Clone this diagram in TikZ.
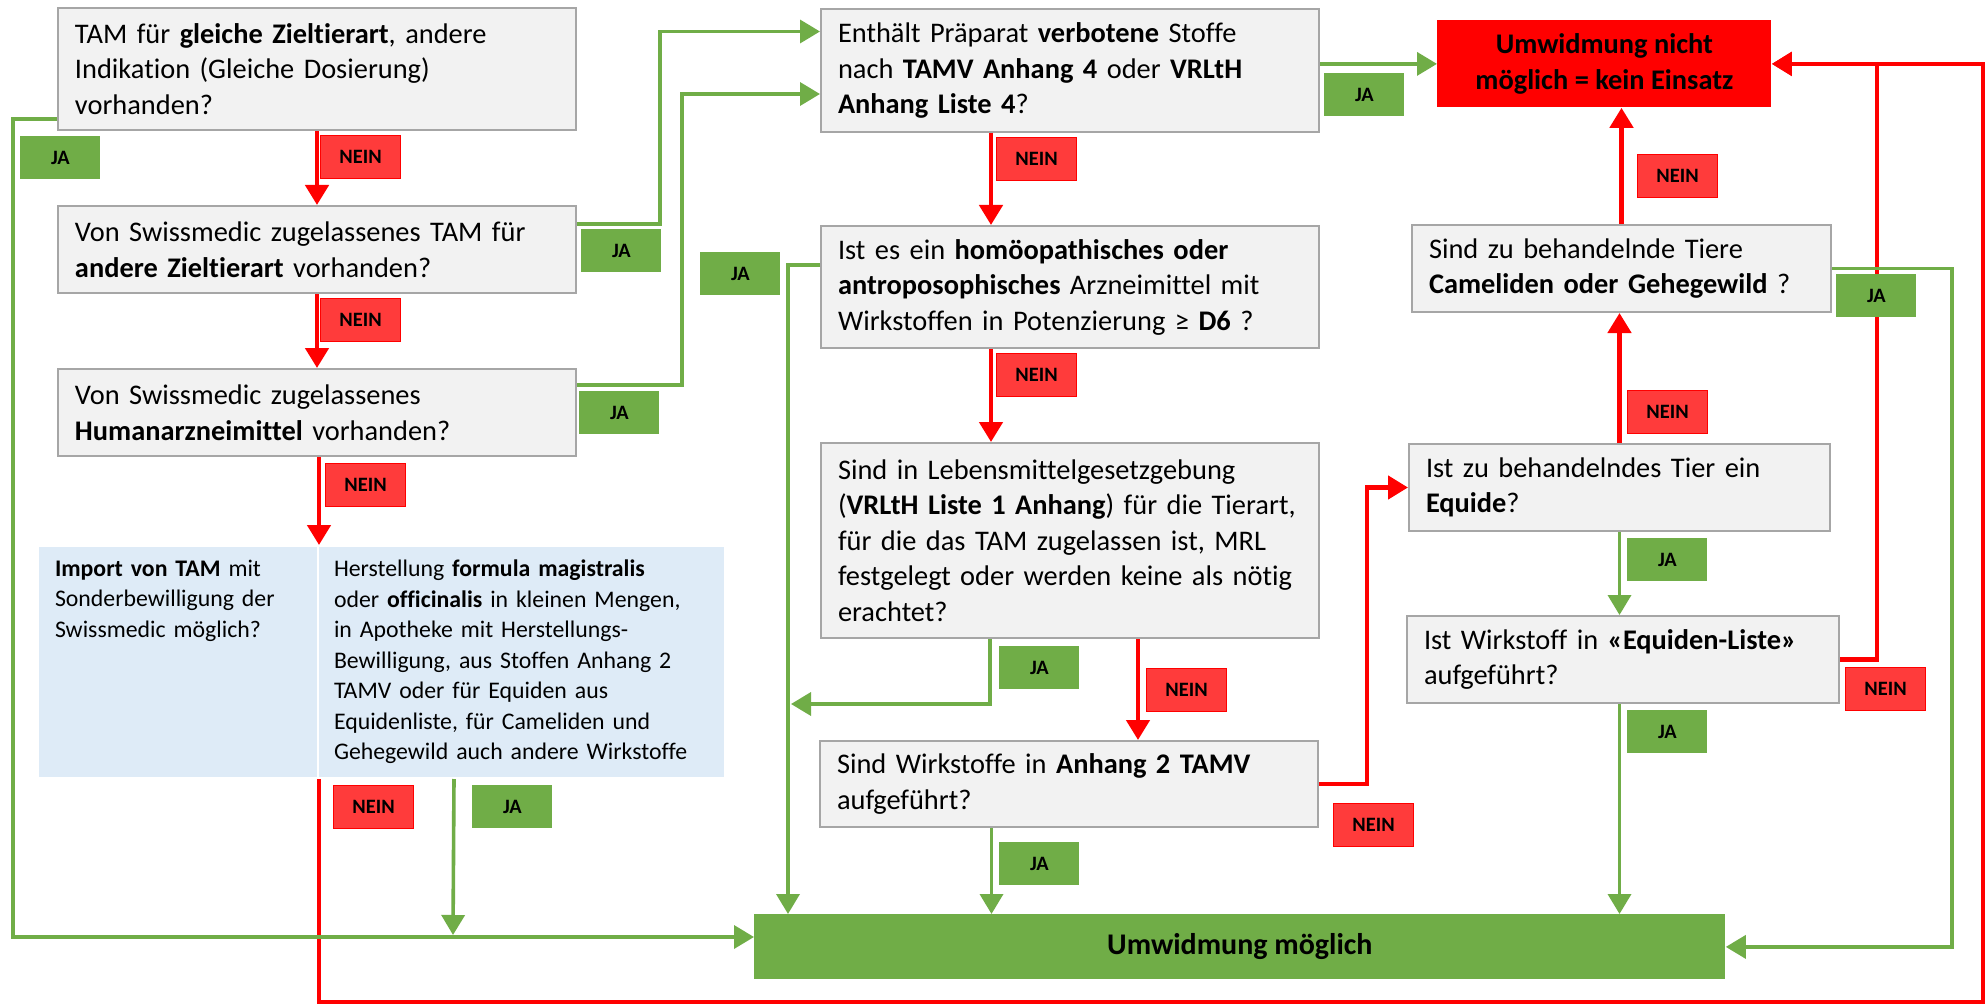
\documentclass[tikz,border=0pt]{standalone}
\usepackage{fontspec}
\setmainfont{Carlito}[Ligatures=NoCommon]
\usetikzlibrary{arrows.meta}
\definecolor{jagreen}{HTML}{70AD47}
\definecolor{neinred}{HTML}{FF3B3B}
\definecolor{linered}{HTML}{FF0000}
\definecolor{boxgray}{HTML}{F2F2F2}
\definecolor{boxline}{HTML}{A6A6A6}
\definecolor{lightblue}{HTML}{DEEBF7}
\newcommand\nohyph{\hyphenpenalty=10000\exhyphenpenalty=10000\relax}
\newcommand\mainfs{\fontsize{14.2}{17.75}\selectfont\nohyph}
\newcommand\blfs{\fontsize{11.9}{15.25}\selectfont\nohyph}
\newcommand\labfs{\fontsize{10.2}{12}\selectfont\bfseries}
\begin{document}
\begin{tikzpicture}[x=0.5pt,y=-0.5pt,
  qbox/.style={draw=boxline, fill=boxgray, line width=1pt, anchor=north west, align=left, inner xsep=8.5pt, inner ysep=2pt, font=\mainfs},
  lab/.style={anchor=north west, minimum width=40pt, minimum height=21.5pt, inner sep=0pt, font=\labfs, text=black},
  jalab/.style={lab, fill=jagreen},
  neinlab/.style={lab, fill=neinred, draw=linered, line width=0.6pt},
  tip/.style={-{Triangle[length=10pt,width=11.5pt]}},
  jaline/.style={draw=jagreen, line width=1.8pt},
  neinline/.style={draw=linered, line width=2.3pt},
]
\useasboundingbox (0,0) rectangle (1988,1006);
\fill[white] (0,0) rectangle (1988,1006);

% question boxes
\node[qbox, text width=242pt, minimum height=61pt] (A) at (57,7)
  {TAM für \textbf{gleiche Zieltierart}, andere\\Indikation (Gleiche Dosierung)\\vorhanden?};
\node[qbox, text width=242pt, minimum height=43.5pt] (B) at (57,205)
  {Von Swissmedic zugelassenes TAM für\\\textbf{andere Zieltierart} vorhanden?};
\node[qbox, text width=242pt, minimum height=43.5pt] (C) at (57,368)
  {Von Swissmedic zugelassenes\\\textbf{Humanarzneimittel} vorhanden?};
\node[qbox, text width=232pt, minimum height=61.5pt] (D) at (820,8)
  {Enthält Präparat \textbf{verbotene} Stoffe\\nach \textbf{TAMV Anhang 4} oder \textbf{VRLtH}\\\textbf{Anhang Liste 4}?};
\node[qbox, text width=232pt, minimum height=61pt] (E) at (820,225)
  {Ist es ein \textbf{homöopathisches oder}\\\textbf{antroposophisches} Arzneimittel mit\\Wirkstoffen in Potenzierung ≥ \textbf{D6} ?};
\node[qbox, text width=232pt, minimum height=97.5pt] (F) at (820,442)
  {Sind in Lebensmittelgesetzgebung\\(\textbf{VRLtH Liste 1 Anhang}) für die Tierart,\\für die das TAM zugelassen ist, MRL\\festgelegt oder werden keine als nötig\\erachtet?};
\node[qbox, text width=232pt, minimum height=43pt] (G) at (819,740)
  {Sind Wirkstoffe in \textbf{Anhang 2 TAMV}\\aufgeführt?};
\node[qbox, text width=192.5pt, minimum height=43.5pt] (I) at (1411,224)
  {Sind zu behandelnde Tiere\\\textbf{Cameliden oder Gehegewild} ?};
\node[qbox, text width=193.5pt, minimum height=43.5pt] (J) at (1408,443)
  {Ist zu behandelndes Tier ein\\\textbf{Equide}?};
\node[qbox, text width=199pt, minimum height=43.5pt] (K) at (1406,615)
  {Ist Wirkstoff in \textbf{«Equiden-Liste»}\\aufgeführt?};

% result boxes
\node[fill=linered, anchor=north west, minimum width=167pt, minimum height=43.5pt, inner sep=0pt,
  align=center, font=\mainfs\bfseries] (H) at (1437,20) {Umwidmung nicht\\möglich = kein Einsatz};
\node[fill=jagreen, anchor=north west, minimum width=485.5pt, minimum height=32.5pt, inner sep=0pt,
  font=\fontsize{15}{18}\selectfont\bfseries] (N) at (754,914) {Umwidmung möglich};

% light blue boxes
\node[fill=lightblue, draw=white, line width=1pt, anchor=north west, inner xsep=8.5pt, inner ysep=0pt,
  text width=123pt, align=left, font=\blfs] (L) at (37,545)
  {\parbox[c][116pt][t]{123pt}{\vspace*{7pt}\raggedright\textbf{Import von TAM} mit\\Sonderbewilligung der\\Swissmedic möglich?}};
\node[fill=lightblue, draw=white, line width=1pt, anchor=north west, inner xsep=8pt, inner ysep=0pt,
  text width=187.5pt, minimum height=116pt, align=left, font=\blfs] (M) at (317,545)
  {Herstellung \textbf{formula magistralis}\\oder \textbf{officinalis} in kleinen Mengen,\\in Apotheke mit Herstellungs-\\Bewilligung, aus Stoffen Anhang 2\\TAMV oder für Equiden aus\\Equidenliste, für Cameliden und\\Gehegewild auch andere Wirkstoffe};

% coordinates
\coordinate (hline) at (13,937);
\coordinate (mjoin) at (453,935);
\coordinate (fjoin) at (791,704);
\coordinate (rc) at (1983,1002);

% red (NEIN) connectors
\draw[neinline, tip] (A.south) -- (B.north);
\draw[neinline, tip] (B.south) -- (C.north);
\draw[neinline, tip] (C.south -| L.north east) -- (L.north east);
\draw[neinline, tip] ([xshift=-39.5pt]D.south) -- ([xshift=-39.5pt]D.south |- E.north);
\draw[neinline, tip] ([xshift=-39.5pt]E.south) -- ([xshift=-39.5pt]E.south |- F.north);
\draw[neinline, tip] ([xshift=34pt]F.south) -- ([xshift=34pt]F.south |- G.north);
\draw[neinline, tip] (G.east) -- ++(48,0) |- (J.west);
\draw[neinline, tip] (J.north) -- (J.north |- I.south);
\draw[neinline, tip] (I.north) -- (I.north |- H.south);
\draw[neinline, tip] (K.east) -- ++(37,0) |- (H.east);
\draw[neinline, tip] (L.south east) |- (rc) |- (H.east);

% green (JA) connectors
\draw[jaline, tip] ([yshift=6pt]A.south west) -| (hline) -- (N.west |- hline);
\draw[jaline, tip] ([yshift=-9.5pt]B.north east) -- ++(83,0) |- ([yshift=-11.75pt]D.north west);
\draw[jaline, tip] ([yshift=-8.5pt]C.north east) -- ++(105,0) |- ([yshift=-43pt]D.north west);
\draw[jaline, tip] (D.east |- H.west) -- (H.west);
\draw[jaline, tip] ([yshift=-20pt]E.north west) -| ([xshift=17pt]N.north west);
\draw[jaline, tip] ([xshift=-40pt]F.south) |- (fjoin);
\draw[jaline, tip] ([xshift=-38.75pt]G.south) -- ([xshift=-38.75pt]G.south |- N.north);
\draw[jaline, tip] (J.south) -- (J.south |- K.north);
\draw[jaline, tip] (J.south |- K.south) -- (J.south |- N.north);
\draw[jaline, tip] (I.east) -- ++(120,0) |- (N.east);
\draw[jaline, tip] ([xshift=-33.75pt]M.south) -- (mjoin);

% labels
\node[neinlab] (n1) at (320,135) {NEIN};
\node[neinlab] (n2) at (320,298) {NEIN};
\node[neinlab] (n3) at (325,463) {NEIN};
\node[jalab] (jA) at (20,136) {JA};
\node[jalab] (jB) at (581,229) {JA};
\node[jalab] (jC) at (579,391) {JA};
\node[jalab] (jE) at (700,252) {JA};
\node[jalab] (jD) at (1324,73) {JA};
\node[neinlab] (nD) at (996,137) {NEIN};
\node[neinlab] (nE) at (996,353) {NEIN};
\node[jalab] (jF) at (999,646) {JA};
\node[neinlab] (nF) at (1146,668) {NEIN};
\node[neinlab] (nG) at (1333,803) {NEIN};
\node[jalab] (jG) at (999,842) {JA};
\node[neinlab] (nI) at (1637,154) {NEIN};
\node[jalab] (jI) at (1836,274) {JA};
\node[neinlab] (nJ) at (1627,390) {NEIN};
\node[jalab] (jJ) at (1627,538) {JA};
\node[neinlab] (nK) at (1845,667) {NEIN};
\node[jalab] (jK) at (1627,710) {JA};
\node[neinlab] (nM) at (333,785) {NEIN};
\node[jalab] (jM) at (472,785) {JA};
\end{tikzpicture}
\end{document}
